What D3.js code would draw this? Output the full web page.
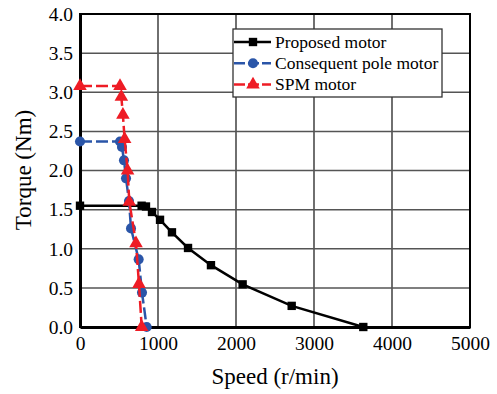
<!DOCTYPE html>
<html>
<head>
<meta charset="utf-8">
<script src="https://cdn.jsdelivr.net/npm/d3@7"></script>
<style>
  body { margin: 0; background: #fff; }
  svg text { font-family: "Liberation Serif", "DejaVu Serif", serif; fill: #000; }
</style>
</head>
<body>
<svg width="497" height="394"></svg>
<script>
// speed (r/min) and torque (Nm)
const proposedSpeed  = [0, 790, 846, 923, 1026, 1179, 1385, 1679, 2085, 2714, 3632]
const proposedTorque = [1.55, 1.55, 1.54, 1.47, 1.37, 1.21, 1.01, 0.79, 0.545, 0.27, 0]

const cpSpeed  = [0, 513, 538, 564, 590, 628, 654, 752, 795, 855]
const cpTorque = [2.37, 2.37, 2.30, 2.13, 1.90, 1.61, 1.26, 0.865, 0.44, 0]

const spmSpeed  = [0, 513, 530, 550, 572, 610, 632, 718, 756, 791]
const spmTorque = [3.08, 3.08, 2.94, 2.71, 2.40, 2.00, 1.60, 1.07, 0.55, 0]

const xTicks = [0, 1000, 2000, 3000, 4000, 5000]
const yTicks = [0, 0.5, 1.0, 1.5, 2.0, 2.5, 3.0, 3.5, 4.0]

const seriesNames = ["Proposed motor", "Consequent pole motor", "SPM motor"]

const svg = d3.select("svg")
const mLeft = 80, mRight = 470, mTop = 14, mBottom = 327
const serif = "'Liberation Serif', 'DejaVu Serif', serif"

const xScale = d3.scaleLinear().domain([0, 5000]).range([mLeft, mRight])
const yScale = d3.scaleLinear().domain([0, 4]).range([mBottom, mTop])

// grid
svg.append("g").selectAll("line").data(xTicks.slice(1, -1)).enter().append("line")
    .attr("x1", d => xScale(d)).attr("x2", d => xScale(d))
    .attr("y1", mTop).attr("y2", mBottom)
    .attr("stroke", "#222").attr("stroke-width", 1.3)
svg.append("g").selectAll("line").data(yTicks.slice(1, -1)).enter().append("line")
    .attr("x1", mLeft).attr("x2", mRight)
    .attr("y1", d => yScale(d)).attr("y2", d => yScale(d))
    .attr("stroke", "#555").attr("stroke-width", 1.5)

// frame
svg.append("rect").attr("x", mLeft).attr("y", mTop)
    .attr("width", mRight - mLeft).attr("height", mBottom - mTop)
    .attr("fill", "none").attr("stroke", "#000").attr("stroke-width", 2)

// axes
const xAxis = d3.axisBottom(xScale).tickValues(xTicks).tickSize(0).tickPadding(9)
    .tickFormat(d3.format("d"))
const yAxis = d3.axisLeft(yScale).tickValues(yTicks).tickSize(0).tickPadding(7)
    .tickFormat(d3.format(".1f"))

const gx = svg.append("g").attr("transform", "translate(0," + mBottom + ")").call(xAxis)
    .attr("font-family", serif).attr("font-size", 19.5)
gx.select(".domain").attr("stroke", "#000").attr("stroke-width", 3)
gx.selectAll("text").style("font-family", serif).style("font-size", "19.5px")

const gy = svg.append("g").attr("transform", "translate(" + mLeft + ",0)").call(yAxis)
    .attr("font-family", serif).attr("font-size", 19.5)
gy.select(".domain").attr("stroke", "#000").attr("stroke-width", 3)
gy.selectAll("text").style("font-family", serif).style("font-size", "19.5px")

svg.append("text").attr("x", 275).attr("y", 384).attr("text-anchor", "middle")
    .style("font-size", "23px").text("Speed (r/min)")
svg.append("text").attr("transform", "translate(31,170) rotate(-90)")
    .attr("text-anchor", "middle").style("font-size", "23px").text("Torque (Nm)")

// series
const series = [
  { name: seriesNames[0], xs: proposedSpeed, ys: proposedTorque, color: "#000", dash: null, shape: d3.symbolSquare, size: 70 },
  { name: seriesNames[1], xs: cpSpeed, ys: cpTorque, color: "#2a55a8", dash: "12,4", shape: d3.symbolCircle, size: 80 },
  { name: seriesNames[2], xs: spmSpeed, ys: spmTorque, color: "#ee1c25", dash: "12,4", shape: d3.symbolTriangle, size: 80 }
]

const line = d3.line().x(d => xScale(d[0])).y(d => yScale(d[1]))

series.forEach(s => {
  const pts = s.xs.map((v, i) => [v, s.ys[i]])
  svg.append("path").datum(pts).attr("d", line)
      .attr("fill", "none").attr("stroke", s.color).attr("stroke-width", 2.5)
      .attr("stroke-dasharray", s.dash)
  svg.append("g").selectAll("path").data(pts).enter().append("path")
      .attr("d", d3.symbol().type(s.shape).size(s.size))
      .attr("transform", d => "translate(" + xScale(d[0]) + "," + yScale(d[1]) + ")")
      .attr("fill", s.color)
})

// legend
const lg = svg.append("g")
lg.append("rect").attr("x", 233).attr("y", 29).attr("width", 209).attr("height", 68)
    .attr("fill", "#fff").attr("stroke", "#333").attr("stroke-width", 1.3)
series.forEach((s, i) => {
  const yy = 42 + i * 21.3
  lg.append("line").attr("x1", 234).attr("x2", 271).attr("y1", yy).attr("y2", yy)
      .attr("stroke", s.color).attr("stroke-width", 2.5)
      .attr("stroke-dasharray", s.dash ? "11,3" : null)
  lg.append("path").attr("d", d3.symbol().type(s.shape).size(s.size))
      .attr("transform", "translate(253," + yy + ")").attr("fill", s.color)
  lg.append("text").attr("x", 275).attr("y", yy + 5.5).style("font-size", "17.5px").text(s.name)
})
</script>
</body>
</html>
